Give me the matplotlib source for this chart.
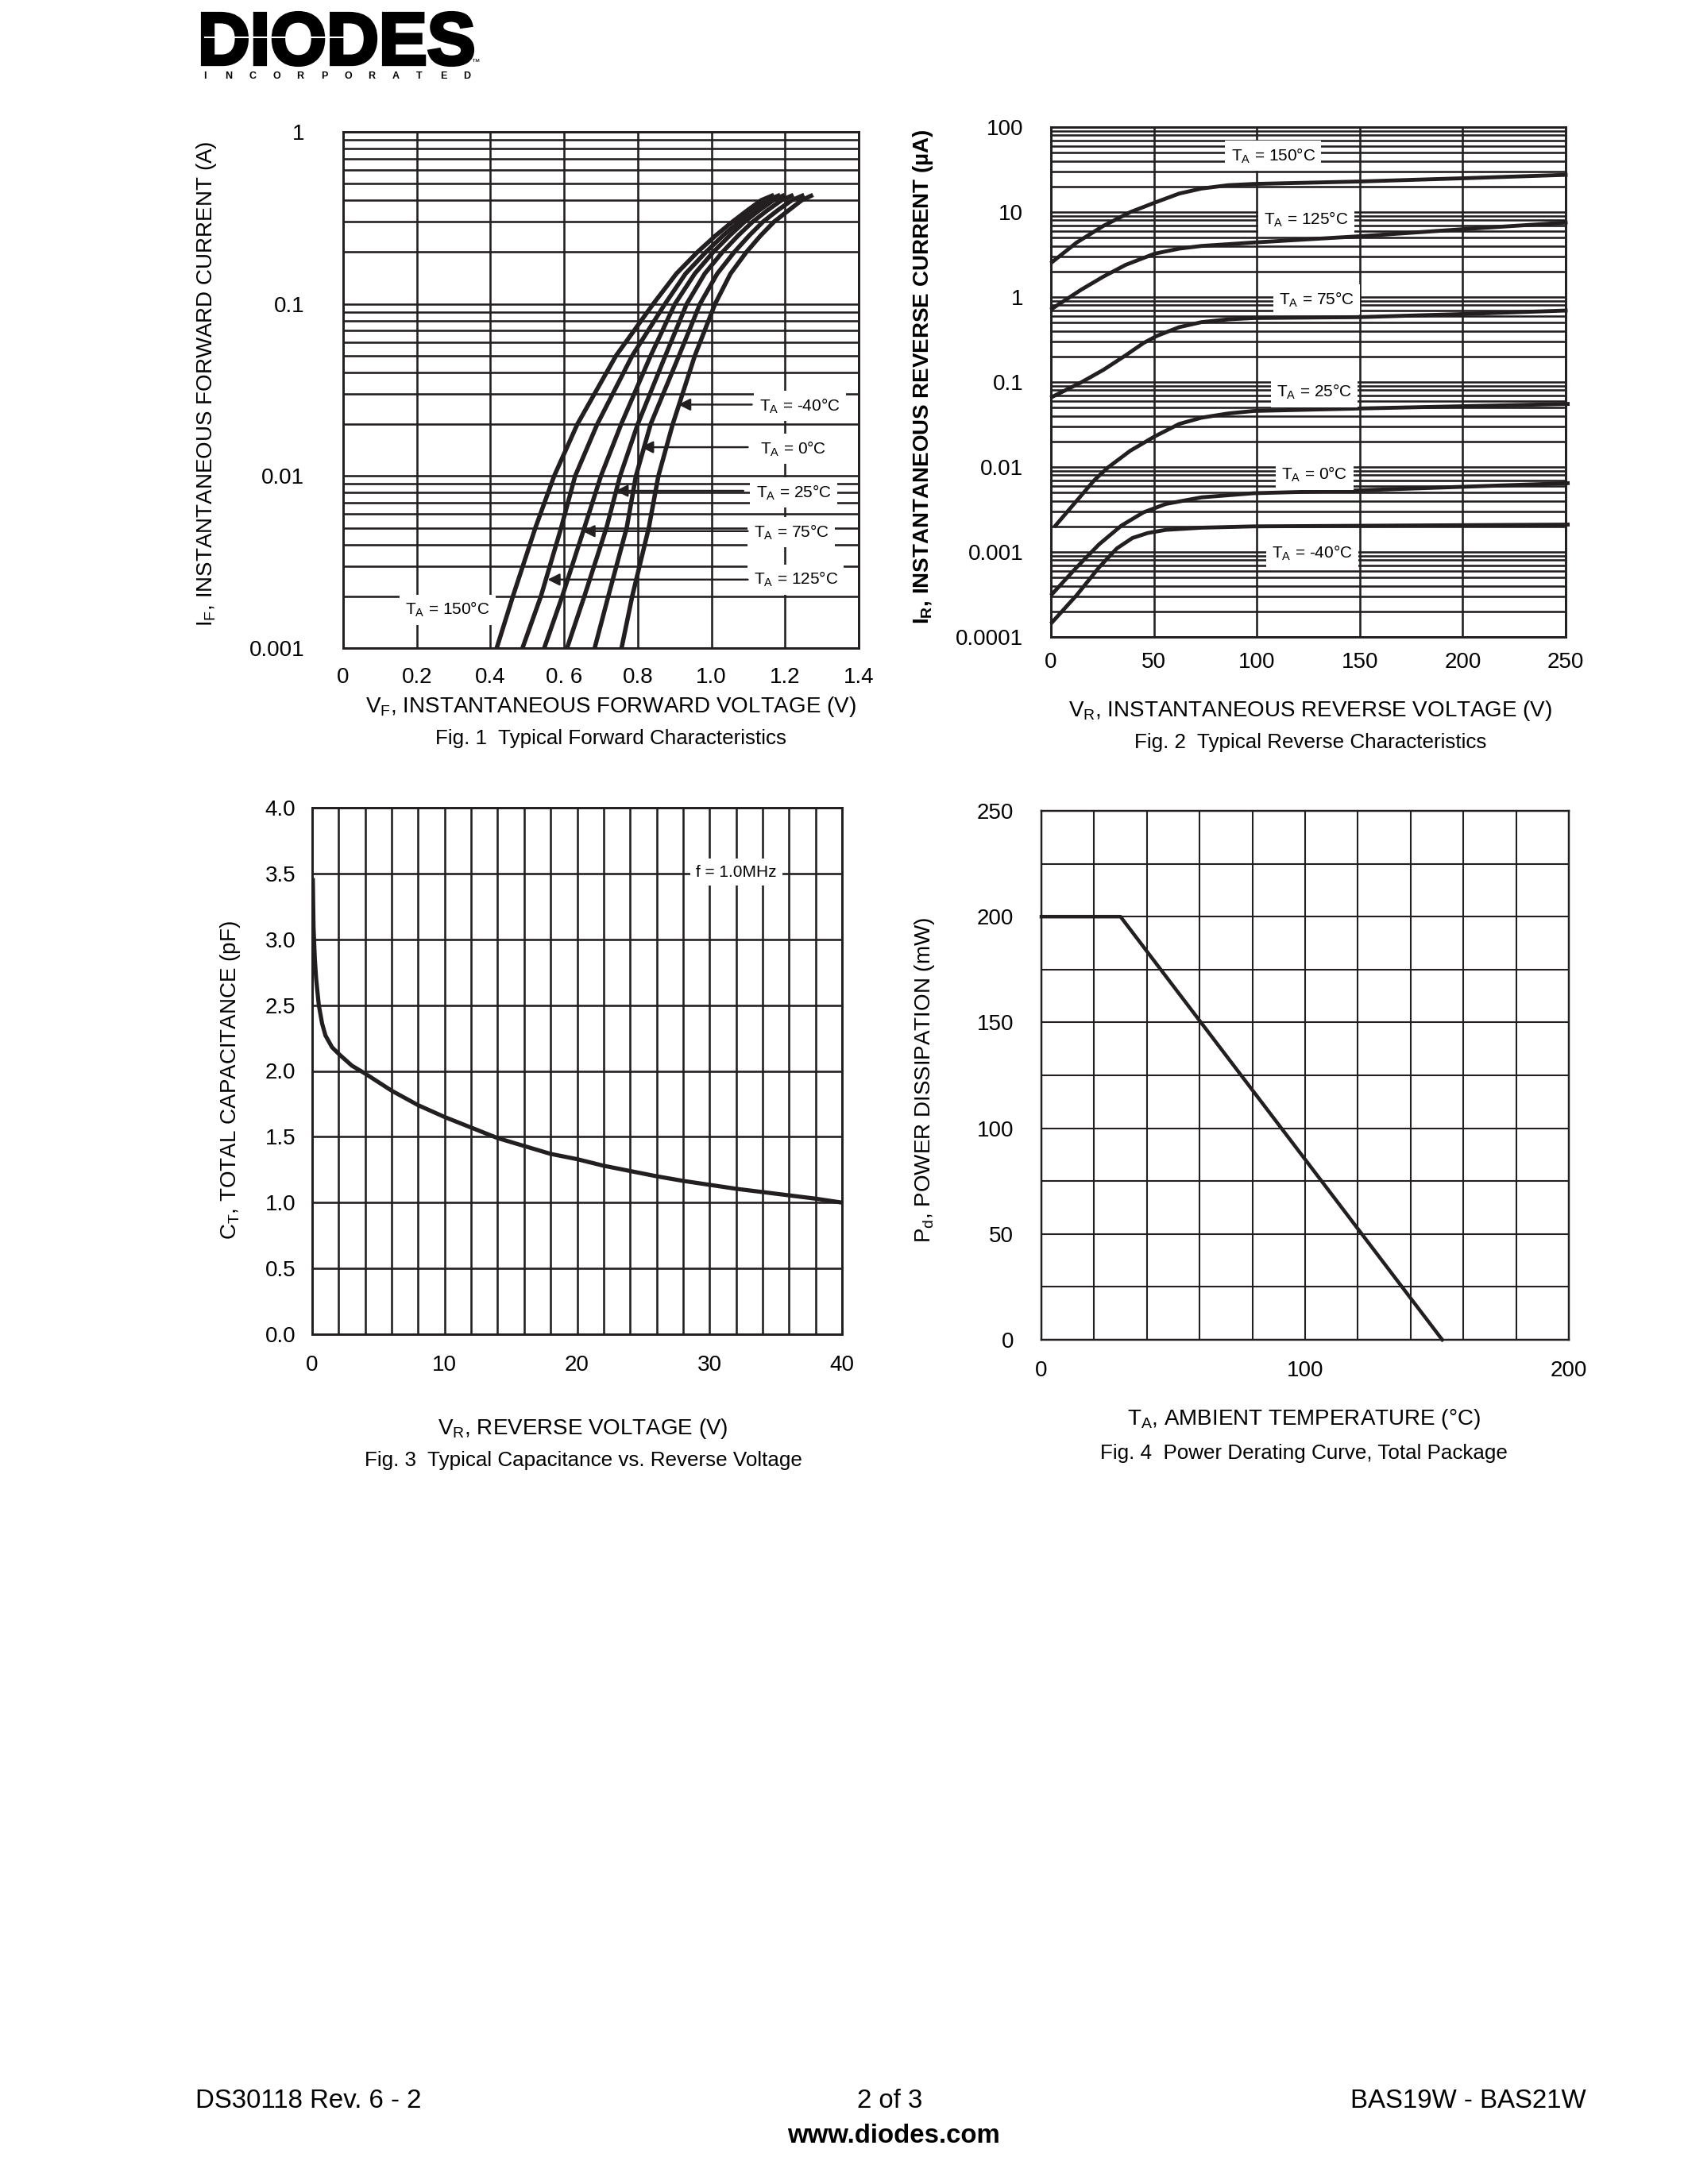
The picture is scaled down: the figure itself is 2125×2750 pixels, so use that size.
import numpy as np
import matplotlib
matplotlib.use("Agg")
import matplotlib.pyplot as plt
from matplotlib.ticker import LogLocator, NullFormatter, MultipleLocator
from matplotlib.textpath import TextPath
from matplotlib.patches import PathPatch
from matplotlib.font_manager import FontProperties
from matplotlib.transforms import Affine2D

plt.rcParams['font.family'] = ['Liberation Sans', 'DejaVu Sans']
plt.rcParams['mathtext.default'] = 'regular'

INK = '#231f20'
W, H = 2125, 2750

# ---------------- Fig. 1 data: forward characteristics ----------------
fwd_temps = ['150', '125', '75', '25', '0', '-40']
fwd_I = [0.001, 0.002, 0.005, 0.01, 0.02, 0.05, 0.1, 0.15, 0.2, 0.25, 0.3,
         0.35, 0.4, 0.43]
fwd_V = {
    '150': [0.417, 0.461, 0.522, 0.573, 0.636, 0.741, 0.842, 0.905, 0.962,
            1.012, 1.057, 1.098, 1.135, 1.170],
    '125': [0.487, 0.537, 0.592, 0.630, 0.690, 0.785, 0.874, 0.930, 0.985,
            1.032, 1.075, 1.115, 1.152, 1.187],
    '75':  [0.546, 0.595, 0.655, 0.700, 0.755, 0.835, 0.901, 0.955, 1.005,
            1.050, 1.090, 1.130, 1.168, 1.199],
    '25':  [0.608, 0.655, 0.715, 0.752, 0.800, 0.875, 0.933, 0.982, 1.030,
            1.073, 1.112, 1.152, 1.190, 1.223],
    '0':   [0.683, 0.720, 0.770, 0.795, 0.835, 0.912, 0.969, 1.016, 1.062,
            1.103, 1.140, 1.180, 1.218, 1.252],
    '-40': [0.756, 0.785, 0.830, 0.856, 0.895, 0.955, 1.010, 1.052, 1.095,
            1.134, 1.170, 1.210, 1.245, 1.276],
}
# label text position (V, I), arrow start V, arrow tip V, arrow I
fwd_labels = {
    '-40': (1.240, 0.0255, 1.110, 0.910, 0.026),
    '0':   (1.223, 0.0144, 1.099, 0.809, 0.0147),
    '25':  (1.223, 0.0080, 1.087, 0.740, 0.0082),
    '75':  (1.217, 0.0047, 1.099, 0.650, 0.00478),
    '125': (1.229, 0.0025, 1.099, 0.555, 0.0025),
    '150': (0.284, 0.00167, None, None, None),
}

# ---------------- Fig. 2 data: reverse characteristics (uA) ----------------
rev_curves = {
    '150': ([0.6, 12.5, 25.5, 38.5, 50.4, 62.3, 73.1, 86.1, 98.4, 150.3, 202.9, 250],
            [2.58, 4.38, 6.88, 9.97, 12.9, 16.5, 18.9, 20.7, 21.4, 22.9, 25.1, 27.4]),
    '125': ([0.6, 14.7, 25.5, 36.3, 50.4, 62.3, 73.1, 98.4, 150, 203, 250],
            [0.73, 1.22, 1.74, 2.39, 3.24, 3.71, 3.99, 4.38, 5.19, 6.35, 7.52]),
    '75':  ([0.6, 14.7, 25.5, 36.3, 45, 51.5, 62.3, 73.1, 86, 98.4, 150, 203, 250],
            [0.0668, 0.099, 0.139, 0.206, 0.288, 0.349, 0.442, 0.506, 0.546,
             0.566, 0.58, 0.634, 0.693]),
    '25':  ([2.2, 12.5, 21.2, 27.7, 38.5, 50.4, 62.3, 73.1, 86, 98.4, 150, 251],
            [0.00204, 0.004, 0.00705, 0.00986, 0.0155, 0.0229, 0.0321, 0.038,
             0.0426, 0.0456, 0.0488, 0.0552]),
    '0':   ([0.6, 12.5, 23.4, 34.2, 45, 55.8, 73.1, 98.4, 150, 251],
            [0.00032, 0.00066, 0.00123, 0.00204, 0.00293, 0.00367, 0.00439,
             0.00491, 0.00531, 0.00645]),
    '-40': ([0.6, 12.5, 23.4, 32, 39.6, 47, 55.8, 73.1, 98.4, 251],
            [0.000149, 0.00031, 0.00066, 0.0011, 0.00146, 0.00167, 0.00182,
             0.00193, 0.0020, 0.0021]),
}
rev_labels = {'150': (108, 46), '125': (124, 8.2), '75': (129, 0.94),
              '25': (128, 0.076), '0': (128, 0.0081), '-40': (127, 0.00098)}

# ---------------- Fig. 3 data: capacitance ----------------
cap_V = [0.05, 0.1, 0.2, 0.3, 0.5, 0.75, 1.0, 1.5, 2, 3, 4, 6, 8, 10, 12, 14,
         16, 18, 20, 22, 24, 26, 28, 30, 32, 34, 36, 38, 40]
cap_C = [3.45, 3.1, 2.85, 2.7, 2.5, 2.36, 2.27, 2.18, 2.13, 2.04, 1.98, 1.85,
         1.74, 1.65, 1.57, 1.49, 1.43, 1.37, 1.33, 1.28, 1.24, 1.20, 1.165,
         1.135, 1.105, 1.08, 1.055, 1.03, 1.0]

# ---------------- Fig. 4 data: power derating ----------------
der_T = [0, 30, 152]
der_P = [200, 200, 0]


def ax_at(l, t, r, b):
    return fig.add_axes([l / W, 1 - b / H, (r - l) / W, (b - t) / H])


def px_text(x, y, s, **kw):
    kw.setdefault('ha', 'center')
    kw.setdefault('va', 'center')
    return fig.text(x / W, 1 - y / H, s, **kw)


def style(ax, lw=0.75):
    for s in ax.spines.values():
        s.set_linewidth(lw + 0.1)
        s.set_color(INK)
    ax.tick_params(which='both', length=0, labelsize=8, colors='black')
    ax.grid(which='both', color=INK, linewidth=lw)
    ax.set_axisbelow(True)


def box():
    return dict(boxstyle='square,pad=0.35', fc='white', ec='none')


fig = plt.figure(figsize=(W / 250, H / 250), dpi=250)

# ================= Fig. 1 =================
ax1 = ax_at(432, 166, 1081, 816)
ax1.set_yscale('log')
ax1.set_xlim(0, 1.4)
ax1.set_ylim(0.001, 1)
ax1.yaxis.set_minor_locator(LogLocator(base=10, subs=np.arange(2, 10)))
ax1.yaxis.set_minor_formatter(NullFormatter())
ax1.set_yticks([0.001, 0.01, 0.1, 1], ['0.001', '0.01', '0.1', '1'])
ax1.set_xticks([0, 0.2, 0.4, 0.6, 0.8, 1.0, 1.2, 1.4],
               ['0', '0.2', '0.4', '0. 6', '0.8', '1.0', '1.2', '1.4'])
style(ax1)
ax1.tick_params(axis='y', pad=14)
ax1.tick_params(axis='x', pad=7)
for t in fwd_temps:
    ax1.plot(fwd_V[t], fwd_I, color=INK, lw=1.6, solid_capstyle='butt',
             solid_joinstyle='round', zorder=3)
for t, (lx, ly, ax0, ax_tip, ay) in fwd_labels.items():
    ax1.text(lx, ly, 'T$_A$ = ' + t + '°C', fontsize=6, ha='center', va='center',
             bbox=box(), zorder=4)
    if ax0 is not None:
        ax1.annotate('', xy=(ax_tip, ay), xytext=(ax0, ay), zorder=4,
                     arrowprops=dict(arrowstyle='-|>', color=INK, lw=0.7,
                                     mutation_scale=9, shrinkA=0, shrinkB=0))
px_text(769, 890, 'V$_F$, INSTANTANEOUS FORWARD VOLTAGE (V)', fontsize=8)
px_text(260, 483, 'I$_F$, INSTANTANEOUS FORWARD CURRENT (A)', fontsize=8,
        rotation=90)
px_text(769, 930, 'Fig. 1  Typical Forward Characteristics', fontsize=7.5)

# ================= Fig. 2 =================
ax2 = ax_at(1323, 160, 1971, 802)
ax2.set_yscale('log')
ax2.set_xlim(0, 250)
ax2.set_ylim(0.0001, 100)
ax2.xaxis.set_major_locator(MultipleLocator(50))
ax2.yaxis.set_minor_locator(LogLocator(base=10, subs=np.arange(2, 10)))
ax2.yaxis.set_minor_formatter(NullFormatter())
ax2.set_yticks([0.0001, 0.001, 0.01, 0.1, 1, 10, 100],
               ['0.0001', '0.001', '0.01', '0.1', '1', '10', '100'])
style(ax2)
ax2.tick_params(axis='y', pad=10)
ax2.tick_params(axis='x', pad=5.5)
for t, (xv, yv) in rev_curves.items():
    ax2.plot(xv, yv, color=INK, lw=1.4, zorder=3, clip_on=False,
             solid_joinstyle='round')
for t, (lx, ly) in rev_labels.items():
    ax2.text(lx, ly, 'T$_A$ = ' + t + '°C', fontsize=6, ha='center', va='center',
             bbox=box(), zorder=4)
px_text(1650, 895, 'V$_R$, INSTANTANEOUS REVERSE VOLTAGE (V)', fontsize=8)
px_text(1162, 474, 'I$_R$, INSTANTANEOUS REVERSE CURRENT (µA)', fontsize=8,
        fontweight='bold', rotation=90)
px_text(1650, 935, 'Fig. 2  Typical Reverse Characteristics', fontsize=7.5)

# ================= Fig. 3 =================
ax3 = ax_at(393, 1017, 1060, 1680)
ax3.set_xlim(0, 40)
ax3.set_ylim(0, 4.0)
ax3.xaxis.set_major_locator(MultipleLocator(10))
ax3.xaxis.set_minor_locator(MultipleLocator(2))
ax3.set_yticks(np.arange(0, 4.01, 0.5), [f'{v:.1f}' for v in np.arange(0, 4.01, 0.5)])
style(ax3)
ax3.tick_params(axis='y', pad=6)
ax3.tick_params(axis='x', pad=7.5)
ax3.plot(cap_V, cap_C, color=INK, lw=1.5, zorder=3, solid_joinstyle='round')
ax3.text(32, 3.51, 'f = 1.0MHz', fontsize=6, ha='center', va='center',
         bbox=box(), zorder=4)
px_text(734, 1799, 'V$_R$, REVERSE VOLTAGE (V)', fontsize=8)
px_text(290, 1360, 'C$_T$, TOTAL CAPACITANCE (pF)', fontsize=8, rotation=90)
px_text(734, 1839, 'Fig. 3  Typical Capacitance vs. Reverse Voltage', fontsize=7.5)

# ================= Fig. 4 =================
ax4 = ax_at(1311, 1021, 1975, 1687)
ax4.set_xlim(0, 200)
ax4.set_ylim(0, 250)
ax4.xaxis.set_major_locator(MultipleLocator(100))
ax4.xaxis.set_minor_locator(MultipleLocator(20))
ax4.yaxis.set_major_locator(MultipleLocator(50))
ax4.yaxis.set_minor_locator(MultipleLocator(25))
style(ax4, lw=0.6)
ax4.tick_params(axis='y', pad=10)
ax4.tick_params(axis='x', pad=7.5)
ax4.plot(der_T, der_P, color=INK, lw=1.3, zorder=3, clip_on=False)
px_text(1641, 1787, 'T$_A$, AMBIENT TEMPERATURE (°C)', fontsize=8)
px_text(1164, 1360, 'P$_d$, POWER DISSIPATION (mW)', fontsize=8, rotation=90)
px_text(1641, 1830, 'Fig. 4  Power Derating Curve, Total Package', fontsize=7.5)

# ================= logo =================
tp = TextPath((0, 0), 'DIODES', size=1,
              prop=FontProperties(family='Liberation Sans', weight='bold'))
ext = tp.get_extents()
tr = (Affine2D().translate(-ext.x0, -ext.y0)
      .scale(340 / ext.width, 66 / ext.height)
      .translate(255, H - 82).scale(1 / W, 1 / H))
fig.add_artist(PathPatch(tr.transform_path(tp), fc='black', ec='black', lw=1.2,
                         transform=fig.transFigure))
fig.add_artist(plt.Line2D([258 / W, 432 / W], [1 - 47 / H, 1 - 47 / H],
                          color='white', lw=0.6, transform=fig.transFigure))
for i, ch in enumerate('INCORPORATED'):
    px_text(258 + i * 30, 96, ch, fontsize=3.6, fontweight='bold')
px_text(598, 78, '™', fontsize=3)

# ================= footer =================
foot = ['Liberation Sans Narrow', 'Liberation Sans']
px_text(246, 2645, 'DS30118 Rev. 6 - 2', fontsize=9.5, family=foot, ha='left')
px_text(1120, 2645, '2 of 3', fontsize=9.5, family=foot)
px_text(1997, 2645, 'BAS19W - BAS21W', fontsize=9.5, family=foot, ha='right')
px_text(1125, 2690, 'www.diodes.com', fontsize=9.5, family=foot, fontweight='bold')

fig.savefig('out.png', dpi=250, facecolor='white')
